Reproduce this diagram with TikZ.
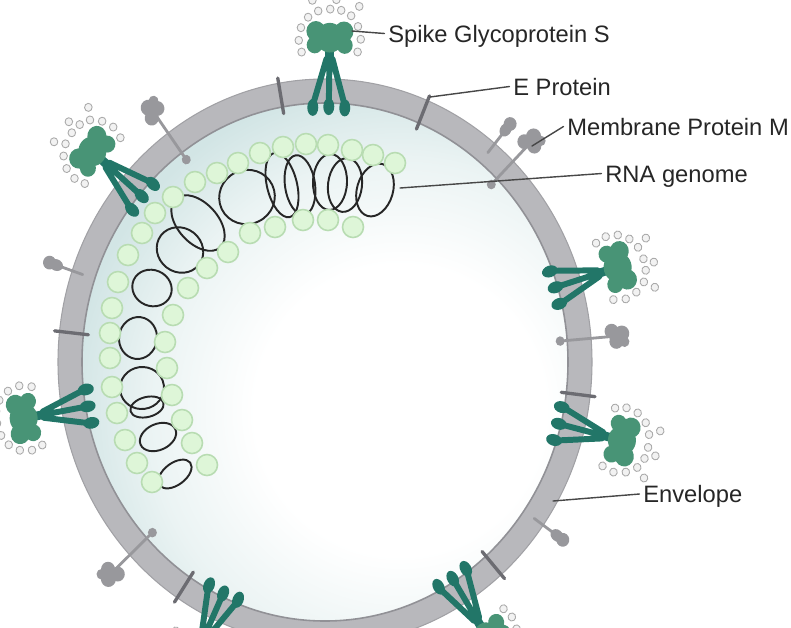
\documentclass[tikz,border=0pt]{standalone}
\usepackage{fontspec}
\setmainfont{Liberation Sans}
\definecolor{membrane}{RGB}{184,184,188}
\definecolor{membraneedge}{RGB}{145,145,150}
\definecolor{inside}{RGB}{210,229,229}
\definecolor{stem}{RGB}{34,118,104}
\definecolor{spikehead}{RGB}{72,148,118}
\definecolor{glycan}{RGB}{170,170,170}
\definecolor{bead}{RGB}{222,246,216}
\definecolor{beadedge}{RGB}{184,220,178}
\definecolor{mgray}{RGB}{152,152,156}
\definecolor{egray}{RGB}{108,108,114}
\definecolor{labelgray}{RGB}{38,38,38}
\pgfdeclareradialshading{virion}{\pgfpoint{0bp}{0bp}}{color(0bp)=(white);
  color(11bp)=(white); color(19bp)=(inside!45!white); color(25bp)=(inside); color(50bp)=(inside)}
\tikzset{
  lbl/.style={anchor=west, inner sep=0pt, text height=9.7pt, text depth=0pt,
    font=\fontsize{13.5}{16}\selectfont, text=labelgray},
  leader/.style={draw=black!72, line width=0.8pt},
  glyc/.style={draw=glycan, fill=black!5, line width=0.5pt},
  rnabead/.style={draw=beadedge, fill=bead, line width=0.9pt},
  coil/.style={draw=black!85, line width=1.1pt},
}
\begin{document}
\begin{tikzpicture}[x=0.02cm, y=-0.02cm, line join=round, line cap=round]
\def\cx{325} \def\cy{362} % centre of the virion
\useasboundingbox (0,0) rectangle (791,627);
\begin{scope}
\clip (0,0) rectangle (791,627);
% inside
\begin{scope}
\clip (\cx,\cy) ellipse (243 and 259);
\fill[inside] (0,0) rectangle (791,627);
\shade[shading=virion] (400,410) circle (330);
\end{scope}
% RNA genome
\foreach \x/\y/\a/\b in {375/190/27/18, 345/185/27/17, 330/182/28/17, 300/185/30/15,
    282/185/33/15, 247/197/27/28, 198/223/33/20, 180/250/24/22, 152/288/20/18,
    138/338/19/21, 142/388/22/21, 147/407/17/10, 158/437/19/13, 175/474/19/11} {
  \pgfmathsetmacro\ang{atan2(\cy-\y,\x-\cx)}
  \draw[coil, shift={(\x,\y)}, rotate=\ang] (0,0) ellipse [x radius=\a, y radius=\b];
}
\foreach \x/\y in {395/163, 373/155, 352/150, 328/145, 306/144, 283/147, 260/153,
    238/163, 217/173, 195/182, 173/197, 155/213, 142/233, 128/255, 118/282, 112/308,
    110/333, 110/358, 112/387, 117/413, 125/440, 137/463, 152/482,
    353/227, 328/220, 303/220, 275/227, 250/233, 228/252, 207/268, 188/288, 173/315,
    165/342, 167/368, 172/395, 182/420, 192/443, 207/465}
  \draw[rnabead] (\x,\y) circle (10.5);
% envelope
\fill[membrane, even odd rule] (\cx,\cy) ellipse (267 and 283) (\cx,\cy) ellipse (243 and 259);
\draw[membraneedge, line width=0.9pt] (\cx,\cy) ellipse (243 and 259);
\draw[membraneedge!60!membrane, line width=0.6pt] (\cx,\cy) ellipse (267 and 283);
\begin{scope}[shift={(\cx,\cy)}, yscale=1.06]
% E proteins
\foreach \a in {100,67.4,173.8,-6.9,-123.6,-48.7}
  \draw[egray, line width=1.9pt, rotate=\a] (238,0) -- (272,0);
% M proteins
\foreach \a in {126,45.2,4.8,-137} {
  \begin{scope}[rotate=\a]
  \draw[mgray, line width=1.6pt] (236,0) -- (286,0);
  \fill[mgray] (236,0) circle (4.5);
  \fill[mgray] (288,-5) circle (7) (292,5) circle (7) (298,-2) circle (7.5) (300,6) circle (5);
  \end{scope}
}
\foreach \a in {161.2,50.5,-35.2} {
  \begin{scope}[rotate=\a]
  \draw[mgray, line width=1.6pt] (256,0) -- (282,0);
  \fill[mgray] (284,0) ellipse (7 and 5.5) (291,0) circle (6.5);
  \end{scope}
}
% spikes
\foreach \a in {89.1,139.5,190,17,-14,-115,-58} {
  \begin{scope}[rotate=\a]
  \draw[stem, line width=3.4pt] (242,-16) -- (286,-3) (243,0) -- (288,0) (242,16) -- (286,3);
  \fill[stem] (240,-16) ellipse (8 and 5.5) (241,0) ellipse (8 and 5.5) (240,16) ellipse (8 and 5.5);
  \draw[stem, line width=5pt] (284,0) -- (298,0);
  \fill[spikehead] (299,-15) circle (8) (299,15) circle (8) (312,-14) circle (9.5)
    (312,14) circle (9.5) (306,0) circle (14);
  \foreach \r/\t in {292/-28, 303/-31, 315/-29, 325/-22, 331/-12, 333/0, 332/11,
      327/21, 317/28, 305/31, 293/28, 341/-18, 342/6, 336/29}
    \draw[glyc] (\r,\t) circle (3.8);
  \end{scope}
}
\end{scope}
\end{scope}
% labels
\coordinate (spikept) at (352,31);
\coordinate (eprotpt) at (430,97);
\coordinate (mprotpt) at (532,146);
\coordinate (rnapt) at (400,188);
\coordinate (envpt) at (553,501);
\node[lbl] (spikelbl) at (388,33.5) {Spike Glycoprotein S};
\node[lbl] (eprotlbl) at (513,86.5) {E Protein};
\node[lbl] (mprotlbl) at (567,126.5) {Membrane Protein M};
\node[lbl] (rnalbl) at (605,173.5) {RNA genome};
\node[lbl] (envlbl) at (643,494) {Envelope};
\draw[leader] (spikept) -- ([xshift=-2pt]spikelbl.west);
\draw[leader] (eprotpt) -- ([xshift=-2pt]eprotlbl.west);
\draw[leader] (mprotpt) -- ([xshift=-2pt]mprotlbl.west);
\draw[leader] (rnapt) -- ([xshift=-2pt]rnalbl.west);
\draw[leader] (envpt) -- ([xshift=-2pt]envlbl.west);
\end{tikzpicture}
\end{document}
